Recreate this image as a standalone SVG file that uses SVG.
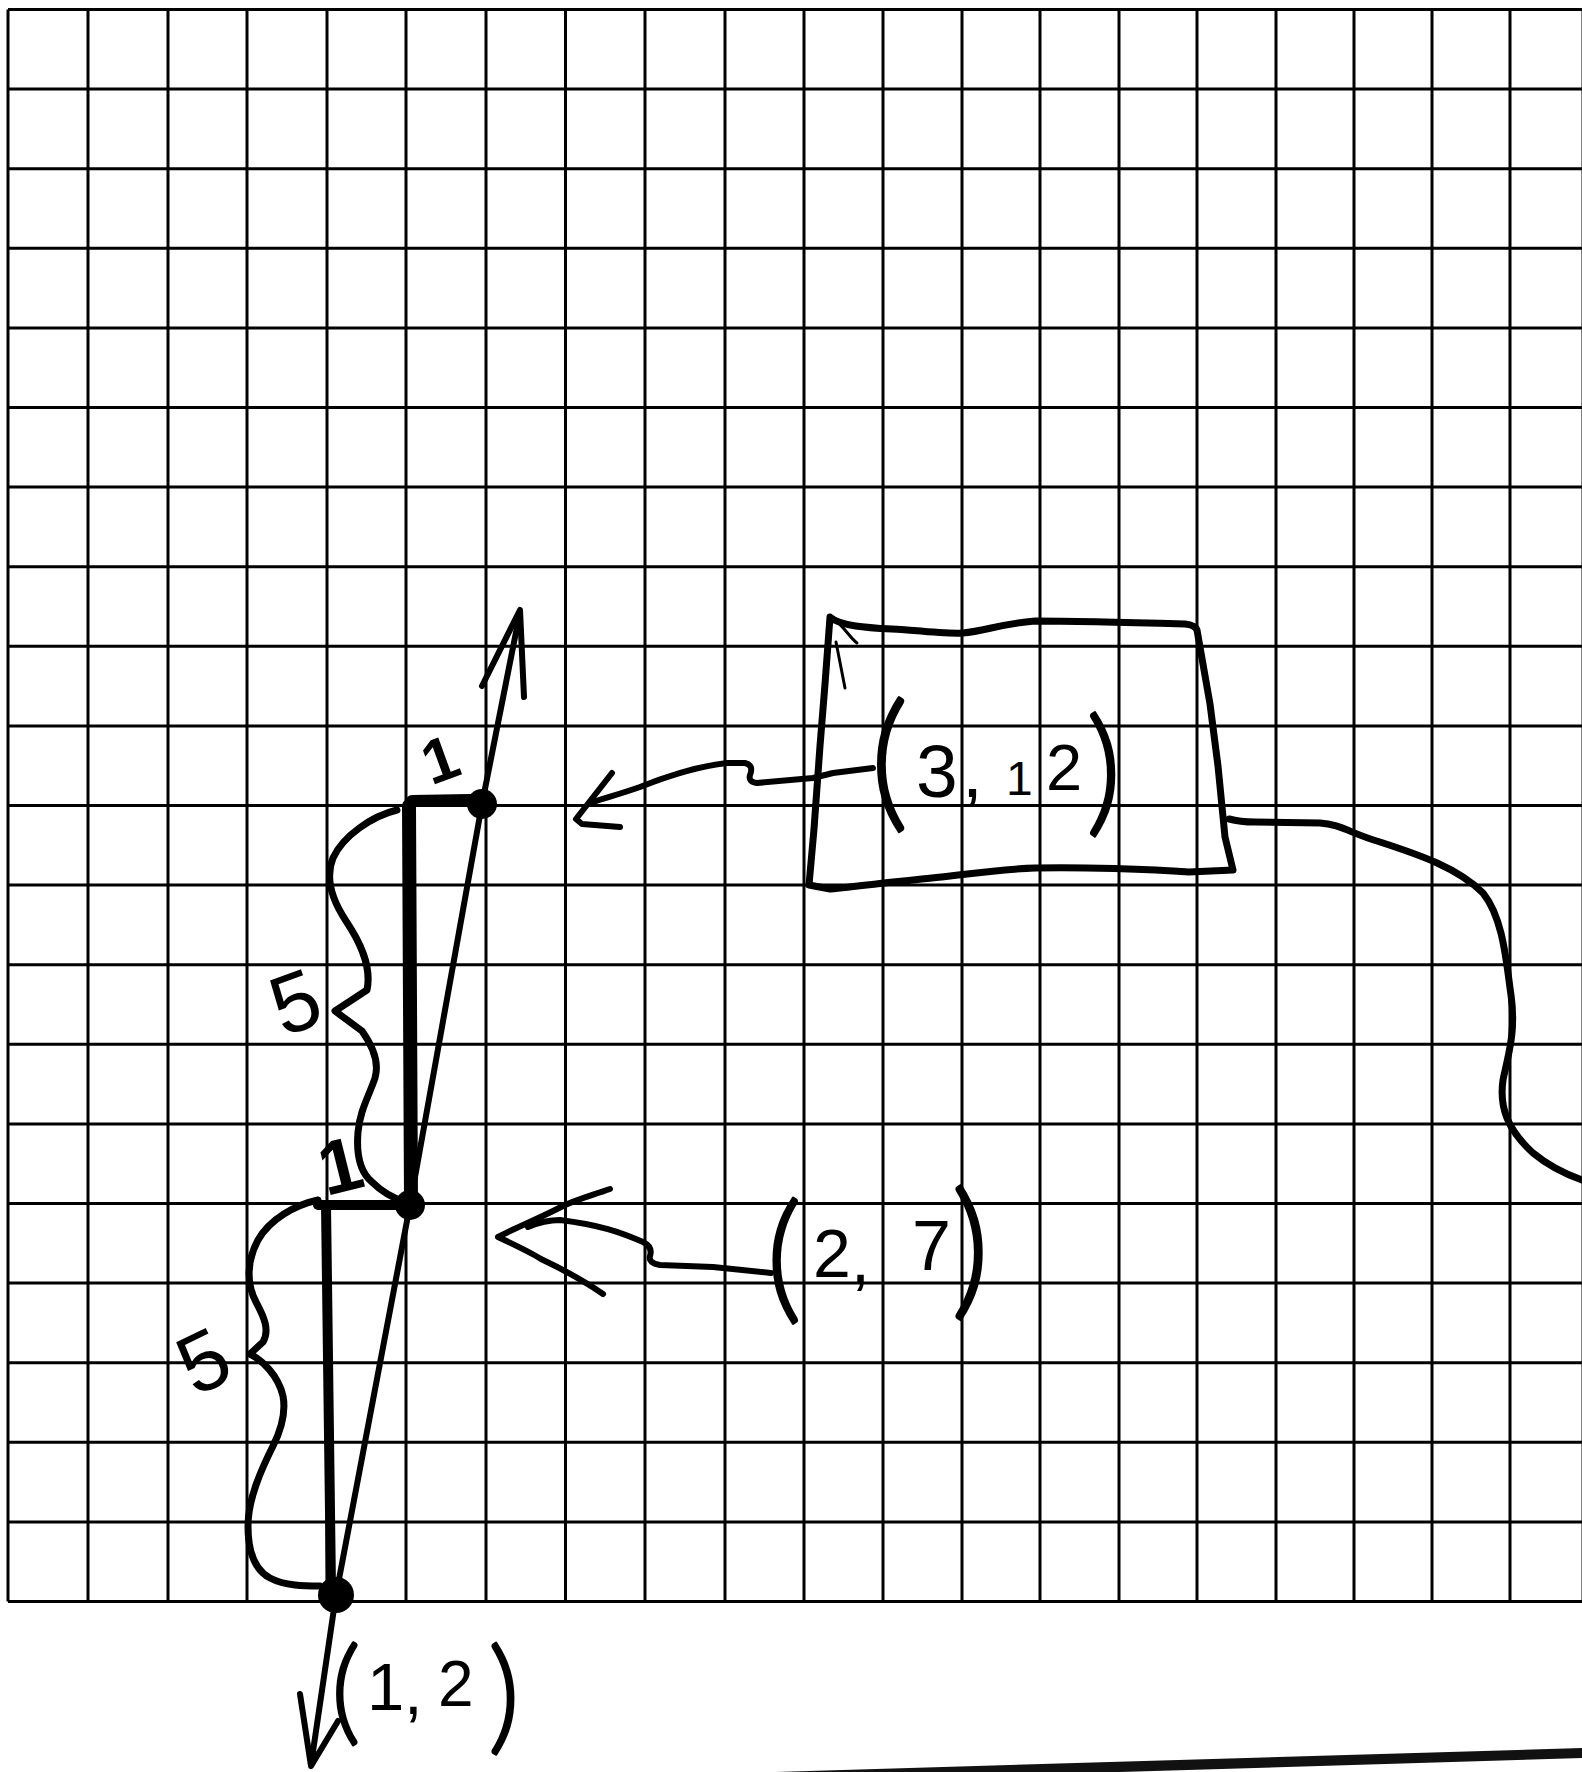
<svg xmlns="http://www.w3.org/2000/svg" width="1582" height="1772" viewBox="0 0 1582 1772">
  <style>
    .grid { stroke: #000; stroke-width: 3; fill: none; }
    .ink { stroke: #000; fill: none; stroke-linecap: round; stroke-linejoin: round; }
    .w6 { stroke-width: 6; }
    .w7 { stroke-width: 7; }
    .w3 { stroke-width: 3; }
    .thick { stroke-width: 12; }
    .dot { fill: #000; }
    .hand { font-family: "Liberation Sans", Arial, sans-serif; fill: #000; }
    .par { font-family: "Lato", "Liberation Sans", sans-serif; font-weight: 300; stroke: #000; stroke-width: 2.5; stroke-linejoin: round; }
  </style>
  <rect width="1582" height="1772" fill="#fff"/>

  <g id="grid">
    <path class="grid" d="M8,9.5V1601.5 M88,9.5V1601.5 M168,9.5V1601.5 M247,9.5V1601.5 M327,9.5V1601.5 M406,9.5V1601.5 M486,9.5V1601.5 M565.5,9.5V1601.5 M645,9.5V1601.5 M725,9.5V1601.5 M804,9.5V1601.5 M883,9.5V1601.5 M962,9.5V1601.5 M1040,9.5V1601.5 M1119,9.5V1601.5 M1197,9.5V1601.5 M1276,9.5V1601.5 M1354,9.5V1601.5 M1432,9.5V1601.5 M1510,9.5V1601.5 M1583,9.5V1601.5"/>
    <path class="grid" d="M8,9.5H1582 M8,89.1H1582 M8,168.7H1582 M8,248.3H1582 M8,327.9H1582 M8,407.5H1582 M8,487.1H1582 M8,566.7H1582 M8,646.3H1582 M8,725.9H1582 M8,805.5H1582 M8,885.1H1582 M8,964.7H1582 M8,1044.3H1582 M8,1123.9H1582 M8,1203.5H1582 M8,1283.1H1582 M8,1362.7H1582 M8,1442.3H1582 M8,1521.9H1582 M8,1601.5H1582"/>
  </g>

  <g id="paper-edge">
    <polygon points="776,1772 1582,1748 1582,1758 1120,1772" fill="#111"/>
  </g>

  <g id="slope-triangles">
    <path class="ink thick" d="M412,801 L470,800"/>
    <path class="ink" stroke-width="14" d="M409,806 L411,1200"/>
    <path class="ink" stroke-width="10" d="M318,1205 L400,1205"/>
    <path class="ink" stroke-width="10" d="M326,1205 L331,1588"/>
    <path class="ink w7" d="M397,810 C372,816 343,836 333,858 C325,878 332,900 346,921 C360,942 372,966 367,990 L335,1011 L362,1031 C372,1045 380,1061 375,1078 C369,1096 360,1110 358,1132 C356,1156 360,1172 372,1182 C382,1192 393,1198 405,1202"/>
    <path class="ink w7" d="M318,1200 C295,1205 270,1219 258,1240 C246,1262 247,1285 256,1302 C264,1317 270,1330 263,1342 L250,1354 C262,1360 278,1375 283,1396 C286,1412 281,1430 273,1446 C260,1472 248,1500 248,1526 C248,1552 255,1570 270,1578 C285,1586 305,1586 320,1586"/>
  </g>

  <g id="line">
    <path class="ink w6" d="M311,1765 L336,1595 L410,1205 L482,804 L520,612"/>
    <path class="ink w6" d="M482,686 L520,610 L524,697"/>
    <path class="ink w6" d="M300,1694 L311,1766 L338,1721"/>
  </g>

  <g id="pt-3-12"><circle class="dot" cx="482" cy="804" r="15"/></g>
  <g id="pt-2-7"><circle class="dot" cx="410" cy="1205" r="15"/></g>
  <g id="pt-1-2"><circle class="dot" cx="336" cy="1595" r="18"/></g>

  <g id="run-rise-labels">
    <text class="hand" font-size="62" font-weight="bold" text-anchor="middle" x="440" y="781" transform="rotate(-20 440 759)">1</text>
    <text class="hand" font-size="76" font-weight="bold" text-anchor="middle" x="340" y="1192" transform="rotate(-14 340 1165)">1</text>
    <text class="hand" font-size="84" text-anchor="middle" x="295" y="1031" transform="rotate(-20 295 1001)">5</text>
    <text class="hand" font-size="84" text-anchor="middle" x="203" y="1390" transform="rotate(-26 203 1360)">5</text>
  </g>

  <g id="box-3-12">
    <path class="ink w7" d="M830,617 C842,628 880,628 907,630 C930,632 950,634 963,633 C985,631 1000,624 1035,621 C1080,621 1150,623 1185,624 Q1195,625 1197,630 L1210,704 L1218,766 L1225,837 L1233,870 L1189,872 C1150,869 1080,867 1035,868 C1000,869 960,875 932,878 C900,881 860,886 830,889 L809,885 L814,829 L820,746 L825,684 Z"/>
    <path class="ink w3" d="M836,642 L845,688 M837,622 C845,628 850,638 857,643"/>
    <text class="hand"><tspan class="par" font-size="150" x="870" y="812">(</tspan><tspan font-size="75" x="916" y="797">3</tspan><tspan font-size="75" x="962" y="797">,</tspan><tspan font-size="48" x="1006" y="795">1</tspan><tspan font-size="65" x="1046" y="790">2</tspan><tspan class="par" font-size="138" x="1086" y="818">)</tspan></text>
  </g>

  <g id="label-2-7">
    <text class="hand"><tspan class="par" font-size="140" x="766" y="1305">(</tspan><tspan font-size="68" x="813" y="1277">2</tspan><tspan font-size="68" x="851" y="1282">,</tspan><tspan font-size="70" x="912" y="1270">7</tspan><tspan class="par" font-size="150" x="951" y="1300">)</tspan></text>
  </g>

  <g id="label-1-2">
    <text class="hand"><tspan class="par" font-size="115" x="331" y="1730">(</tspan><tspan font-size="67" x="367" y="1710">1</tspan><tspan font-size="67" x="404" y="1714">,</tspan><tspan font-size="64" x="438" y="1706">2</tspan><tspan class="par" font-size="124" x="488" y="1738">)</tspan></text>
  </g>

  <g id="connectors">
    <path class="ink w6" d="M873,768 L833,773 L813,778 L757,783 Q748,782 750,775 Q754,765 745,763 L727,763 C700,766 670,775 640,787 C620,794 605,798 590,803"/>
    <path class="ink w6" d="M612,773 L576,819 L582,824 L620,827"/>
    <path class="ink w6" d="M771,1273 L713,1267 L660,1265 Q648,1263 650,1256 Q653,1247 643,1242 C620,1232 600,1225 560,1220 C545,1220 535,1224 528,1227"/>
    <path class="ink w6" d="M610,1189 C590,1196 575,1200 561,1207 C540,1218 515,1228 498,1237 C515,1245 530,1252 541,1259 C560,1268 580,1278 603,1294"/>
    <path class="ink w7" d="M1229,819 Q1240,822 1255,822 L1320,823 C1340,824 1352,834 1380,842 C1420,855 1458,868 1483,893 C1503,918 1506,960 1511,995 C1516,1030 1509,1052 1503,1080 C1499,1108 1508,1130 1533,1153 C1550,1167 1568,1175 1582,1180"/>
  </g>
</svg>
